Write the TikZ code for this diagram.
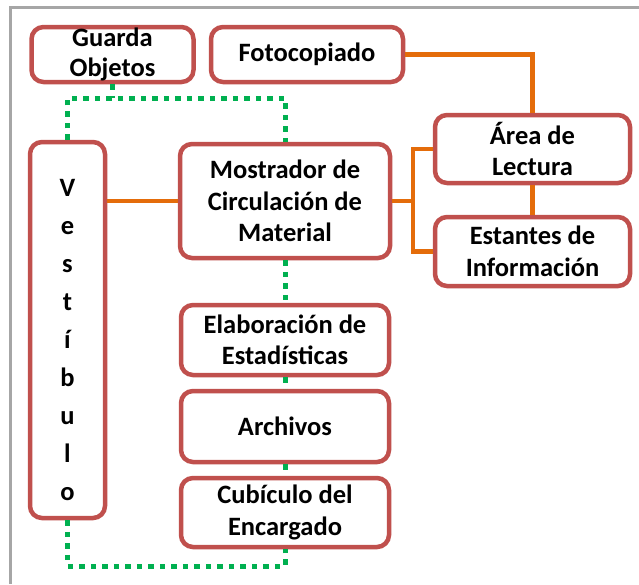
\documentclass[tikz,border=0pt]{standalone}
\usepackage{fontspec}
\setmainfont{Carlito}
\definecolor{boxred}{HTML}{C0504D}
\definecolor{conorange}{HTML}{E46C0A}
\definecolor{dotgreen}{HTML}{00B050}
\definecolor{framegray}{HTML}{A6A6A6}
\tikzset{
  roomfont/.style={font=\bfseries\fontsize{26.5}{31.5}\selectfont},
  roombox/.style={draw=boxred, line width=4.5pt, rounded corners=12pt, fill=white,
    align=center, inner sep=0pt, roomfont},
  solidlink/.style={draw=conorange, line width=4.5pt},
  dotlink/.style={draw=dotgreen, line width=5pt, dash pattern=on 5.5pt off 6pt},
}
\begin{document}
\begin{tikzpicture}[x=1pt,y=-1pt]
\useasboundingbox (0,0) rectangle (639,584);
\fill[white] (0,0) rectangle (639,584);
\draw[framegray, line width=3.5pt] (10.5,584) -- (10.5,7.7) -- (639,7.7);

% nodes
\node[roombox, minimum width=162pt, minimum height=55pt] (guarda) at (112.5,54.5) {Guarda\\[-2pt]Objetos};
\node[roombox, minimum width=192pt, minimum height=55pt] (foto) at (307,54.5) {Fotocopiado};
\node[roombox, minimum width=195pt, minimum height=68pt] (area) at (532.5,149) {Área de\\Lectura};
\node[roombox, minimum width=195pt, minimum height=69pt] (estantes) at (532.5,251.5) {Estantes de\\Información};
\node[roombox, minimum width=210pt, minimum height=114pt] (mostrador) at (285,201) {Mostrador de\\Circulación de\\Material};
\node[roombox, minimum width=75pt, minimum height=376pt] (vest) at (67.5,330) {};
\node[align=center, inner sep=0pt, roomfont] (vestlbl) at (67.5,340)
  {V\\[6.5pt]e\\[6.5pt]s\\[6.5pt]t\\[6.5pt]í\\[6.5pt]b\\[6.5pt]u\\[6.5pt]l\\[6.5pt]o};
\node[roombox, minimum width=208pt, minimum height=70pt] (elab) at (285,340) {Elaboración de\\Estadísticas};
\node[roombox, minimum width=208pt, minimum height=71pt] (arch) at (285,426.5) {Archivos};
\node[roombox, minimum width=208pt, minimum height=69pt] (cub) at (285,512.5) {Cubículo del\\Encargado};

% orange connectors
\coordinate (jx) at (413,201);
\draw[solidlink] (mostrador.west) -- (mostrador.west -| vest.east);
\draw[solidlink] (mostrador.east) -- (jx);
\draw[solidlink] (area.west) -- (area.west -| jx) -- (estantes.west -| jx) -- (estantes.west);
\draw[solidlink] (foto.east) -| (area.north);
\draw[solidlink] (area.south) -- (estantes.north);

% green dotted connectors
\coordinate (g1) at (67.5,98);
\coordinate (g2) at (285,98);
\coordinate (g3) at (67.5,566);
\coordinate (g4) at (285,566);
\draw[dotlink] (vest.north) -- (g1) -- (g2) -- (mostrador.north);
\draw[dotlink] (guarda.south) -- (guarda.south |- g1);
\draw[dotlink] (mostrador.south) -- (elab.north);
\draw[dotlink] (elab.south) -- (arch.north);
\draw[dotlink] (arch.south) -- (cub.north);
\draw[dotlink] (vest.south) -- (g3) -- (g4) -- (cub.south);
\end{tikzpicture}
\end{document}
